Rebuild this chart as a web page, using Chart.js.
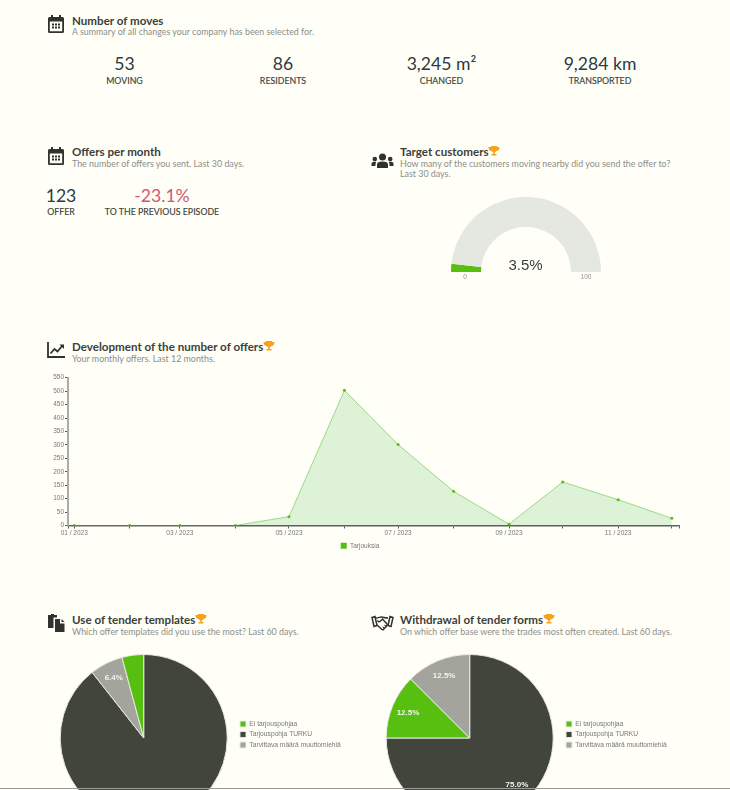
<!DOCTYPE html>
<html>
<head>
<meta charset="utf-8">
<title>Offers dashboard</title>
<script src="https://cdn.jsdelivr.net/npm/chart.js@4"></script>
<style>
html, body { margin: 0; padding: 0; width: 730px; height: 790px; overflow: hidden; background: #fffff8; font-family: Lato, sans-serif; color: #3a3d38; }
.abs { position: absolute; white-space: nowrap; line-height: 1; }
canvas { position: absolute; }
.h { font-size: 11.6px; font-weight: 700; color: #3c3f3a; }
.s { font-size: 8.9px; color: #8b8e89; }
.n { font-size: 17.6px; color: #2d3a40; transform: translateX(-50%); }
.l { font-size: 8.8px; color: #3c3f3a; transform: translateX(-50%); -webkit-text-stroke: 0.15px #3c3f3a; }
.g { font-family: "Liberation Sans", sans-serif; font-size: 6.5px; color: #8e908c; transform: translateX(-50%); }
svg { position: absolute; }
#bottomline { position: absolute; left: 0; top: 788px; width: 730px; height: 1px; background: #9a9c98; }
</style>
</head>
<body>
<svg width="0" height="0">
  <symbol id="cal" viewBox="0 0 16 18"><path d="M3 0h2v2h6V0h2v2h1.500A1.500 1.500 0 0 1 16 3.500v13a1.500 1.500 0 0 1-1.500 1.500h-13A1.500 1.500 0 0 1 0 16.500v-13A1.500 1.500 0 0 1 1.500 2H3zM1.800 6.500v9.700h12.400V6.500z" fill="#2f322e"/><path d="M4 8.500h2v2H4zM7 8.500h2v2H7zM10 8.500h2v2h-2zM4 11.500h2v2H4zM7 11.500h2v2H7zM10 11.500h2v2h-2z" fill="#2f322e"/></symbol>
  <symbol id="trophy" viewBox="0 0 12 10"><path d="M3 0h6v1h2.500c0 2.500-1 3.800-3 4-.4.700-1 1.100-1.700 1.200V8H8.500v1.500h-5V8h1.700V6.200C4.500 6.100 3.900 5.700 3.500 5c-2-.2-3-1.500-3-4H3z" fill="#f3a31c"/></symbol>
</svg>

<svg style="left:48px;top:15px" width="16" height="18"><use href="#cal"/></svg>
<div class="abs h" style="left:72px;top:15px">Number of moves</div>
<div class="abs s" style="left:72px;top:28px">A summary of all changes your company has been selected for.</div>
<div class="abs n" style="left:124.500px;top:55px">53</div>
<div class="abs l" style="left:124.500px;top:77px">MOVING</div>
<div class="abs n" style="left:283px;top:55px">86</div>
<div class="abs l" style="left:283px;top:77px">RESIDENTS</div>
<div class="abs n" style="left:441.500px;top:55px">3,245 m²</div>
<div class="abs l" style="left:441.500px;top:77px">CHANGED</div>
<div class="abs n" style="left:600px;top:55px">9,284 km</div>
<div class="abs l" style="left:600px;top:77px">TRANSPORTED</div>

<svg style="left:48px;top:147px" width="16" height="18"><use href="#cal"/></svg>
<div class="abs h" style="left:72px;top:146px">Offers per month</div>
<div class="abs s" style="left:72px;top:160px">The number of offers you sent. Last 30 days.</div>
<div class="abs n" style="left:61px;top:187px">123</div>
<div class="abs l" style="left:61px;top:208px">OFFER</div>
<div class="abs n" style="left:162px;top:187px;color:#d3566d">-23.1%</div>
<div class="abs l" style="left:162px;top:208px">TO THE PREVIOUS EPISODE</div>

<svg style="left:371px;top:153px" width="23" height="16" viewBox="0 0 23 16" fill="#2f322e">
  <circle cx="11.500" cy="4" r="3.500"/><circle cx="3.800" cy="6" r="2.300"/><circle cx="19.200" cy="6" r="2.300"/>
  <path d="M6 15v-3.500C6 9.500 8 8.500 11.500 8.500S17 9.500 17 11.500V15zM0.500 13v-2.500C.5 9.300 2 8.800 4 8.800c.5 0 1 0 1.300.2-.5.700-.8 1.500-.8 2.500v1.500zM22.500 13v-2.500c0-1.200-1.500-1.700-3.500-1.700-.5 0-1 0-1.300.2.500.7.800 1.500.8 2.500v1.500z"/>
</svg>
<div class="abs h" style="left:400px;top:146px">Target customers</div>
<svg style="left:488px;top:146px" width="12" height="10"><use href="#trophy"/></svg>
<div class="abs s" style="left:400px;top:160px">How many of the customers moving nearby did you send the offer to?</div>
<div class="abs s" style="left:400px;top:170px">Last 30 days.</div>
<canvas id="gauge" style="left:450.700px;top:196.700px"></canvas>
<div class="abs" style="left:525.500px;top:257px;font-family:'Liberation Sans',sans-serif;font-size:15px;color:#3a3d38;transform:translateX(-50%)">3.5%</div>
<div class="abs g" style="left:465px;top:274px">0</div>
<div class="abs g" style="left:586px;top:274px">100</div>

<svg style="left:47px;top:342px" width="18" height="16" viewBox="0 0 18 16" fill="none" stroke="#2f322e">
  <path d="M1 0v15h17" stroke-width="1.800"/><path d="M3.500 11.500l4-4.500 3 2.500 5-6" stroke-width="1.800"/><path d="M12.500 2.500h4.500v4.500z" fill="#2f322e" stroke="none"/>
</svg>
<div class="abs h" style="left:72px;top:341px">Development of the number of offers</div>
<svg style="left:263px;top:341px" width="12" height="10"><use href="#trophy"/></svg>
<div class="abs s" style="left:72px;top:355px">Your monthly offers. Last 12 months.</div>
<canvas id="offersLine" style="left:40px;top:370px"></canvas>

<svg style="left:47px;top:614px" width="18" height="19" viewBox="0 0 18 19" fill="#2f322e">
  <path d="M1 1h3V0h3v1h3v2.500H6.500V14H1z"/><path d="M8 5h5v4.500h4.500V18H8z"/><path d="M14.500 5l3 3h-3z"/>
</svg>
<div class="abs h" style="left:72px;top:614px">Use of tender templates</div>
<svg style="left:195px;top:614px" width="12" height="10"><use href="#trophy"/></svg>
<div class="abs s" style="left:72px;top:628px">Which offer templates did you use the most? Last 60 days.</div>
<canvas id="templatesPie" style="left:40.700px;top:654px"></canvas>

<svg style="left:371px;top:615px" width="23" height="16" viewBox="0 0 23 16" fill="none" stroke="#2f322e" stroke-width="1.500">
  <path d="M1 2.500l3-1 2 9-3 1zM22 2.500l-3-1-2 9 3 1z"/><path d="M5 3c3 0 4-1.500 6-1 1 .2 4 1 6 1M6 10l5 4.500c1 .7 2.500-.5 2-1.500 1 .5 2.500-1 1.700-2 1 .2 2-1 1.300-2L11.500 4 9 6.500c-1 .7-2.500 0-2-1.300"/>
</svg>
<div class="abs h" style="left:400px;top:614px">Withdrawal of tender forms</div>
<svg style="left:543px;top:614px" width="12" height="10"><use href="#trophy"/></svg>
<div class="abs s" style="left:400px;top:628px">On which offer base were the trades most often created. Last 60 days.</div>
<canvas id="formsPie" style="left:367px;top:654px"></canvas>

<div id="bottomline"></div>

<script>
const monthDays = [0, 31, 59, 90, 120, 151, 181, 212, 243, 273, 304, 334];
const monthLabels = ['01 / 2023', '', '03 / 2023', '', '05 / 2023', '', '07 / 2023', '', '09 / 2023', '', '11 / 2023', ''];
const offerCounts = [0, 0, 0, 0, 33, 503, 301, 127, 5, 162, 96, 27];
const yTicksMax = 550;

const gaugeValues = [3.5, 96.5];

const pieLegendOrder = ['Ei tarjouspohjaa', 'Tarjouspohja TURKU', 'Tarvittava määrä muuttomiehiä'];
const templateLabels = ['Tarjouspohja TURKU', 'Tarvittava määrä muuttomiehiä', 'Ei tarjouspohjaa'];
const templateValues = [89.4, 6.4, 4.2];
const templateColors = ['#42453c', '#a3a59c', '#57bf0f'];
const formLabels = ['Tarjouspohja TURKU', 'Ei tarjouspohjaa', 'Tarvittava määrä muuttomiehiä'];
const formValues = [75, 12.5, 12.5];
const formColors = ['#42453c', '#57bf0f', '#a3a59c'];

const green = '#57bf0f';
const smallFont = { family: "'Liberation Sans', sans-serif", size: 6.5 };
const legendFont = { family: "'Liberation Sans', sans-serif", size: 6.7 };

function size(id, w, h) {
    const c = document.getElementById(id);
    c.width = w;
    c.height = h;
    return c;
}

new Chart(size('gauge', 150, 75), {
    type: 'doughnut',
    data: {
        datasets: [{
            data: gaugeValues,
            backgroundColor: [green, '#e5e8e1'],
            borderWidth: 0,
        }],
    },
    options: {
        responsive: false,
        animation: false,
        rotation: -90,
        circumference: 180,
        cutout: '60%',
        plugins: { legend: { display: false }, tooltip: { enabled: false } },
    },
});

new Chart(size('offersLine', 650, 189), {
    type: 'line',
    data: {
        datasets: [{
            label: 'Tarjouksia',
            data: monthDays.map((d, i) => ({ x: d, y: offerCounts[i] })),
            borderColor: 'rgba(87, 191, 60, 0.55)',
            backgroundColor: 'rgba(87, 191, 78, 0.2)',
            borderWidth: 1,
            fill: true,
            tension: 0,
            pointRadius: 1.500,
            pointBackgroundColor: green,
            pointBorderColor: green,
            pointBorderWidth: 0,
        }],
    },
    options: {
        responsive: false,
        animation: false,
        layout: { padding: { top: 7.700, right: 11, left: 0, bottom: 0 } },
        scales: {
            x: {
                type: 'linear',
                min: -3.500,
                max: 338,
                afterBuildTicks(scale) {
                    scale.ticks = [-3.500, ...monthDays, 338].map(value => ({ value }));
                },
                afterFit(scale) { scale.height = 13; },
                grid: { drawOnChartArea: false, tickLength: 3, color: '#555' },
                border: { color: '#5d605a', width: 1.500 },
                ticks: {
                    autoSkip: false,
                    maxRotation: 0,
                    font: smallFont,
                    color: '#777',
                    padding: 1,
                    callback(value) {
                        const i = monthDays.indexOf(value);
                        return i < 0 ? '' : monthLabels[i];
                    },
                },
            },
            y: {
                min: 0,
                max: yTicksMax,
                afterFit(scale) { scale.width = 28; },
                grid: { drawOnChartArea: false, tickLength: 3, color: '#555' },
                border: { color: '#a9aba6', width: 2 },
                ticks: { stepSize: 50, font: smallFont, color: '#777', padding: 1 },
            },
        },
        plugins: {
            tooltip: { enabled: false },
            legend: {
                position: 'bottom',
                labels: {
                    boxWidth: 6,
                    boxHeight: 6,
                    padding: 4,
                    font: smallFont,
                    color: '#777',
                    generateLabels(chart) {
                        return [{ text: 'Tarjouksia', fillStyle: green, strokeStyle: green, lineWidth: 0, fontColor: '#777', datasetIndex: 0 }];
                    },
                },
            },
        },
    },
    plugins: [{
        id: 'nudgeLegend',
        afterLayout(chart) {
            chart.legend.left += 0.500;
            chart.legend.right += 0.500;
        },
    }],
});

// percent labels on the slices, same idea as the datalabels plugin
const sliceLabels = {
    id: 'sliceLabels',
    afterDatasetsDraw(chart) {
        const meta = chart.getDatasetMeta(0);
        const data = chart.data.datasets[0].data;
        const total = data.reduce((a, b) => a + b, 0);
        const ctx = chart.ctx;
        ctx.save();
        ctx.font = "bold 8px 'Liberation Sans', sans-serif";
        ctx.fillStyle = '#f2f3ee';
        ctx.textAlign = 'center';
        ctx.textBaseline = 'middle';
        meta.data.forEach((arc, i) => {
            const share = data[i] / total * 100;
            if (share < 5) return;
            const mid = (arc.startAngle + arc.endAngle) / 2;
            const r = arc.outerRadius * 0.8;
            ctx.fillText(share.toFixed(1) + '%', arc.x + Math.cos(mid) * r, arc.y + Math.sin(mid) * r);
        });
        ctx.restore();
    },
};

const moveLegend = {
    id: 'moveLegend',
    afterLayout(chart) {
        const lg = chart.legend;
        lg.left = 195.200;
        lg.top -= 3.500;
        lg.bottom -= 3.500;
    },
};

function makePie(id, labels, values, colors) {
    return new Chart(size(id, 320, 168), {
        type: 'pie',
        data: {
            labels,
            datasets: [{
                data: values,
                backgroundColor: colors,
                borderColor: '#e8e9e2',
                borderWidth: 1,
            }],
        },
        options: {
            responsive: false,
            animation: false,
            plugins: {
                tooltip: { enabled: false },
                legend: {
                    position: 'right',
                    labels: {
                        boxWidth: 6,
                        boxHeight: 6,
                        padding: 3.800,
                        font: legendFont,
                        color: '#777',
                        sort: (a, b) => pieLegendOrder.indexOf(a.text) - pieLegendOrder.indexOf(b.text),
                    },
                },
            },
        },
        plugins: [sliceLabels, moveLegend],
    });
}

makePie('templatesPie', templateLabels, templateValues, templateColors);
makePie('formsPie', formLabels, formValues, formColors);
</script>
</body>
</html>
